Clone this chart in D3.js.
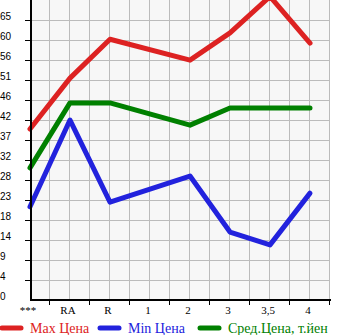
<!DOCTYPE html>
<html>
<head>
<meta charset="utf-8">
<script src="https://cdn.jsdelivr.net/npm/d3@7"></script>
<style>
  body { margin: 0; background: #fff; }
  svg { display: block; }
</style>
</head>
<body>
<div id="chart"></div>
<script>
// categories along the bottom
var categories = ["***", "RA", "R", "1", "2", "3", "3,5", "4"];
// prices per category (null = no data, line joins across)
var maxPrice = [40.0, 51.9, 61.0, null, 56.1, 62.5, 71.0, 60.1];
var minPrice = [21.8, 42.1, 22.9, null, 29.0, 15.9, 12.9, 25.0];
var avgPrice = [30.9, 46.1, 46.1, null, 40.9, 44.9, 44.9, 44.9];
// y tick labels (bottom to top)
var yTickLabels = ["0", "4", "9", "14", "18", "23", "28", "32", "37", "42", "46", "51", "56", "60", "65"];
var yTop = 65.5;
var legendNames = ["Max Цена", "Min Цена", "Сред.Цена, т.йен"];

var W = 345, H = 335;
var pLeft = 31, pRight = 330, pTop = 0, pBottom = 300;
var colors = ["#dd2222", "#2222dd", "#008000"];

var svg = d3.select("#chart").append("svg").attr("width", W).attr("height", H);

var y = d3.scaleLinear().domain([0, yTop * 300 / 280]).range([pBottom, pTop]);
var x = d3.scalePoint().domain(categories).range([30, 310]);

// background
svg.append("rect").attr("x", pLeft).attr("y", pTop).attr("width", pRight - pLeft).attr("height", pBottom - pTop)
    .attr("fill", "#f7f7f7");

// grid
var yVals = yTickLabels.map(function (d, i) { return yTop * i / 14; });
svg.append("g").selectAll("line").data(yVals.slice(1)).enter().append("line")
    .attr("x1", pLeft).attr("x2", pRight)
    .attr("y1", function (d) { return Math.round(y(d)) + 0.5; })
    .attr("y2", function (d) { return Math.round(y(d)) + 0.5; })
    .attr("stroke", "#bbbbbb").attr("stroke-width", 1);
var step = x.step();
var xGrid = d3.range(1, 16).map(function (i) { return 30 + i * step / 2; });
svg.append("g").selectAll("line").data(xGrid).enter().append("line")
    .attr("x1", function (d) { return d - 0.5; }).attr("x2", function (d) { return d - 0.5; })
    .attr("y1", pTop).attr("y2", pBottom)
    .attr("stroke", "#bbbbbb").attr("stroke-width", 1);

// series
svg.append("clipPath").attr("id", "clip").append("rect")
    .attr("x", 0).attr("y", pTop).attr("width", W).attr("height", pBottom - pTop);
var line = d3.line()
    .x(function (d) { return x(d.c); })
    .y(function (d) { return y(d.v); });
[maxPrice, minPrice, avgPrice].forEach(function (vals, k) {
    var pts = categories.map(function (c, i) { return {c: c, v: vals[i]}; })
        .filter(function (d) { return d.v !== null; });
    svg.append("path").datum(pts)
        .attr("clip-path", "url(#clip)")
        .attr("d", line)
        .attr("fill", "none")
        .attr("stroke", colors[k])
        .attr("stroke-width", 5)
        .attr("stroke-linejoin", "round")
        .attr("stroke-linecap", "round");
});

// axes
svg.append("line").attr("x1", pLeft).attr("x2", pLeft).attr("y1", pTop).attr("y2", pBottom + 1)
    .attr("stroke", "#000").attr("stroke-width", 2);
svg.append("line").attr("x1", pLeft - 1).attr("x2", pRight + 1).attr("y1", pBottom).attr("y2", pBottom)
    .attr("stroke", "#000").attr("stroke-width", 2);

// y ticks + labels
svg.append("g").selectAll("line").data(yVals.slice(1)).enter().append("line")
    .attr("x1", 25).attr("x2", pLeft)
    .attr("y1", function (d) { return Math.round(y(d)) + 0.5; })
    .attr("y2", function (d) { return Math.round(y(d)) + 0.5; })
    .attr("stroke", "#000");
svg.append("g").selectAll("text").data(yTickLabels).enter().append("text")
    .attr("x", 0)
    .attr("y", function (d, i) { return y(yVals[i]); })
    .attr("font-family", "Liberation Sans, sans-serif")
    .attr("font-size", 10)
    .attr("fill", "#000")
    .text(function (d) { return d; });

// x ticks + labels
svg.append("g").selectAll("line").data(xGrid.filter(function (d, i) { return i % 2 === 0; })).enter().append("line")
    .attr("x1", function (d) { return d - 0.5; }).attr("x2", function (d) { return d - 0.5; })
    .attr("y1", pBottom).attr("y2", pBottom + 5)
    .attr("stroke", "#000");
svg.append("g").selectAll("text").data(categories).enter().append("text")
    .attr("x", function (d) { return x(d) - 2; })
    .attr("y", 314)
    .attr("text-anchor", "middle")
    .attr("font-family", "Liberation Serif, serif")
    .attr("font-size", 11)
    .attr("fill", "#000")
    .text(function (d) { return d; });

// legend
var legendX = [0, 98, 198];
var lg = svg.append("g").selectAll("g").data(legendNames).enter().append("g")
    .attr("transform", function (d, i) { return "translate(" + legendX[i] + ",328)"; });
lg.append("line").attr("x1", 2).attr("x2", 21).attr("y1", 0).attr("y2", 0)
    .attr("stroke", function (d, i) { return colors[i]; })
    .attr("stroke-width", 5).attr("stroke-linecap", "round");
lg.append("text").attr("x", 30).attr("y", 5)
    .attr("font-family", "Liberation Serif, serif")
    .attr("font-size", 14)
    .attr("fill", function (d, i) { return colors[i]; })
    .text(function (d) { return d; });
</script>
</body>
</html>
